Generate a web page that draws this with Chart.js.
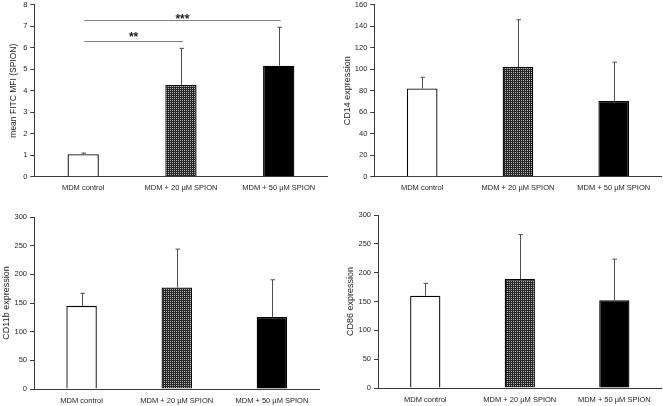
<!DOCTYPE html>
<html>
<head>
<meta charset="utf-8">
<script src="https://cdn.jsdelivr.net/npm/chart.js@4.4.1/dist/chart.umd.min.js"></script>
<style>
  body { margin: 0; background: #fff; }
  #wrap { position: relative; width: 663px; height: 406px; }
  #wrap canvas { position: absolute; }
</style>
</head>
<body>
<div id="wrap">
  <canvas id="c1" width="331" height="203" style="left:0;top:0"></canvas>
  <canvas id="c2" width="332" height="203" style="left:331px;top:0"></canvas>
  <canvas id="c3" width="331" height="203" style="left:0;top:203px"></canvas>
  <canvas id="c4" width="332" height="203" style="left:331px;top:203px"></canvas>
</div>
<script>
const categories = ['MDM control', 'MDM + 20 µM SPION', 'MDM + 50 µM SPION'];

const fitcMeans = [1.05, 4.27, 5.16];
const fitcErrors = [0.05, 1.70, 1.79];
const cd14Means = [82, 102, 70.5];
const cd14Errors = [10.5, 44, 36];
const cd11bMeans = [145, 177, 125.5];
const cd11bErrors = [22, 67, 65];
const cd86Means = [160, 189, 152];
const cd86Errors = [21.5, 77, 71.5];

// significance brackets, first panel only
const sigPairs = [[0, 1], [0, 2]];
const sigLevels = [6.3, 7.3];
const sigLabels = ['**', '***'];

const axisColor = '#3a3a3a';
const textColor = '#1e1e1e';

function checkerPattern() {
    const c = document.createElement('canvas');
    c.width = 2; c.height = 2;
    const g = c.getContext('2d');
    g.fillStyle = '#262626';
    g.fillRect(0, 0, 2, 2);
    g.fillStyle = '#b4b4b4';
    g.fillRect(0, 0, 1, 1);
    return g.createPattern(c, 'repeat');
}

const errorBars = {
    id: 'errorBars',
    afterDatasetsDraw(chart, args, opts) {
        const ctx = chart.ctx;
        const y = chart.scales.y;
        const ds = chart.data.datasets[0];
        const meta = chart.getDatasetMeta(0);
        ctx.save();
        ctx.strokeStyle = '#4d4d4d';
        ctx.lineWidth = 1;
        meta.data.forEach((bar, i) => {
            const top = y.getPixelForValue(ds.data[i] + opts.errors[i]);
            const x = Math.round(bar.x) + 0.5;
            ctx.beginPath();
            ctx.moveTo(x, bar.y);
            ctx.lineTo(x, top);
            ctx.moveTo(x - 2, top);
            ctx.lineTo(x + 2.5, top);
            ctx.stroke();
        });
        ctx.restore();
    }
};

const sigBrackets = {
    id: 'sigBrackets',
    afterDatasetsDraw(chart, args, opts) {
        if (!opts.pairs) return;
        const ctx = chart.ctx;
        const xs = chart.scales.x, ys = chart.scales.y;
        ctx.save();
        opts.pairs.forEach((p, k) => {
            const x1 = xs.getPixelForValue(p[0]) + 1;
            const x2 = xs.getPixelForValue(p[1]) + 2;
            const yy = Math.round(ys.getPixelForValue(opts.levels[k])) + 0.5;
            ctx.strokeStyle = '#808080';
            ctx.lineWidth = 1;
            ctx.beginPath();
            ctx.moveTo(x1, yy);
            ctx.lineTo(x2, yy);
            ctx.stroke();
            ctx.fillStyle = '#222';
            ctx.font = 'bold 12px "Liberation Sans", Arial, sans-serif';
            ctx.textAlign = 'center';
            ctx.textBaseline = 'alphabetic';
            ctx.fillText(opts.labels[k], (x1 + x2) / 2, yy + opts.raise[k]);
        });
        ctx.restore();
    }
};

function makePanel(id, means, errors, cfg) {
    const tickFont = { family: '"Liberation Sans", Arial, sans-serif', size: 7.5 };
    new Chart(document.getElementById(id), {
        type: 'bar',
        data: {
            labels: categories,
            datasets: [{
                data: means,
                backgroundColor: ['#ffffff', checkerPattern(), '#000000'],
                borderColor: '#000000',
                borderWidth: 1.3,
                categoryPercentage: 1,
                barPercentage: 0.32
            }]
        },
        options: {
            responsive: false,
            animation: false,
            layout: { padding: { left: 0, top: cfg.top, right: cfg.right, bottom: 0 } },
            plugins: {
                legend: { display: false },
                tooltip: { enabled: false },
                errorBars: { errors: errors },
                sigBrackets: cfg.sig || {}
            },
            scales: {
                x: {
                    grid: { display: false, drawTicks: false },
                    border: { display: true, color: axisColor, width: 1 },
                    ticks: { color: textColor, font: tickFont, padding: 7, maxRotation: 0, autoSkip: false },
                    afterFit: s => { s.height = 203 - cfg.top - cfg.plotH; s.paddingLeft = 0; s.paddingRight = 0; }
                },
                y: {
                    min: 0,
                    max: cfg.max,
                    ticks: { stepSize: cfg.step, color: textColor, font: tickFont, padding: 3 },
                    grid: { drawOnChartArea: false, drawTicks: true, tickLength: 4, color: axisColor },
                    border: { display: true, color: axisColor, width: 1 },
                    title: {
                        display: true,
                        text: cfg.title,
                        color: textColor,
                        font: { family: '"Liberation Sans", Arial, sans-serif', size: cfg.titleSize },
                        padding: { top: cfg.titlePad, bottom: 0 }
                    },
                    afterFit: s => { s.width = cfg.left; s.paddingTop = 0; s.paddingBottom = 0; }
                }
            }
        },
        plugins: [errorBars, sigBrackets]
    });
}

makePanel('c1', fitcMeans, fitcErrors, {
    title: 'mean FITC MFI (SPION)', titleSize: 8.5, titlePad: 9,
    max: 8, step: 1, left: 34.3, right: 3.4, top: 4.7, plotH: 172,
    sig: { pairs: sigPairs, levels: sigLevels, labels: sigLabels, raise: [-0.5, 2.5] }
});
makePanel('c2', cd14Means, cd14Errors, {
    title: 'CD14 expression', titleSize: 9, titlePad: 11.6,
    max: 160, step: 20, left: 43.3, right: 1.4, top: 4.7, plotH: 172
});
makePanel('c3', cd11bMeans, cd11bErrors, {
    title: 'CD11b expression', titleSize: 9, titlePad: 1.6,
    max: 300, step: 50, left: 34, right: 11.5, top: 14, plotH: 172
});
makePanel('c4', cd86Means, cd86Errors, {
    title: 'CD86 expression', titleSize: 9, titlePad: 14,
    max: 300, step: 50, left: 47, right: 1.4, top: 12, plotH: 173
});
</script>
</body>
</html>
